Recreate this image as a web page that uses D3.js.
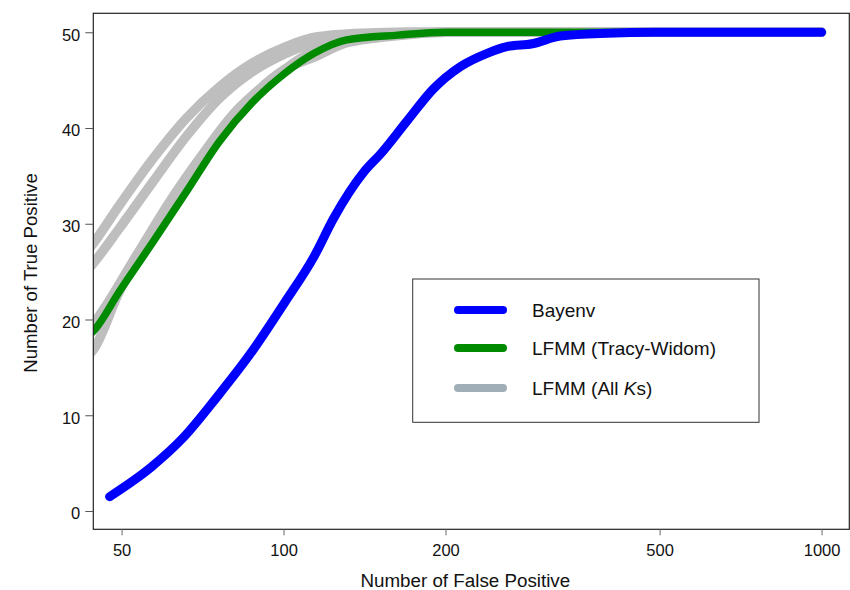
<!DOCTYPE html>
<html>
<head>
<meta charset="utf-8">
<script src="https://cdn.jsdelivr.net/npm/d3@7"></script>
<style>
  html, body { margin: 0; padding: 0; background: #fff; }
  svg { display: block; font-family: "Liberation Sans", Arial, Helvetica, sans-serif; }
</style>
</head>
<body>
<svg id="chart" width="850" height="590"></svg>
<script>
// ---- data ----
const xTicks = [50, 100, 200, 500, 1000];
const yTicks = [0, 10, 20, 30, 40, 50];

const bayenv = [
  [47.5, 1.5], [56.8, 4.6], [65.2, 7.7], [75.2, 11.9], [86.7, 16.4], [100.3, 21.7],
  [114, 26.6], [124, 30.6], [141, 35.4], [151.5, 37.3], [170, 40.8], [190, 44.1],
  [213, 46.4], [239, 47.8], [260, 48.5], [290, 48.8], [327, 49.6], [400, 49.9],
  [490, 50], [1000, 50]
];

const lfmmTW = [
  [43, 18.1], [44.5, 18.9], [49.5, 22.9], [57.2, 28.1], [65.9, 33.3], [76, 38.6],
  [87.6, 42.7], [100, 45.6], [114, 47.8], [131, 49.2], [163, 49.7], [200, 50], [1000, 50]
];

const lfmmK1 = [
  [43, 27.0], [44.5, 28.1], [49.5, 31.9], [57.2, 36.8], [65.9, 41.0], [76, 44.3],
  [87.6, 46.8], [101, 48.5], [115, 49.5], [140, 49.9], [170, 50], [1000, 50]
];
const lfmmK2 = [
  [43, 25.0], [44.5, 26.0], [49.5, 29.5], [57.2, 34.4], [65.9, 39.1], [76, 43.1],
  [87.6, 45.9], [101, 47.8], [115, 49.0], [135, 49.7], [170, 50], [1000, 50]
];
const lfmmK3 = [
  [43, 18.7], [44.5, 19.7], [53.3, 26.7], [61.4, 32.3], [70.6, 37.2], [81.4, 41.7],
  [93.9, 44.8], [110, 47.6], [130, 49.2], [160, 49.8], [200, 50], [1000, 50]
];
const lfmmK4 = [
  [43, 16.0], [44.5, 17.0], [49.5, 22.9], [57.2, 29.1], [65.9, 34.4], [76, 39.6],
  [87.6, 43.4], [101, 46.2], [114, 47.4], [131, 48.9], [160, 49.6], [200, 50], [1000, 50]
];
const grayLines = [lfmmK1, lfmmK2, lfmmK3, lfmmK4];

const legendItems = [
  { label: "Bayenv", color: "#0000FF" },
  { label: "LFMM (Tracy-Widom)", color: "#008A00" },
  { label: "LFMM (All Ks)", color: "#A0AFB7" }
];

// ---- layout ----
const svg = d3.select("#chart");
const L = 93.3, R = 849.3, T = 13.3, B = 529.3;

const x = d3.scaleLog().domain([44.3, 1126]).range([L, R]);
const y = d3.scaleLinear().domain([-1.91, 51.98]).range([B, T]);

svg.append("defs").append("clipPath").attr("id", "clip")
  .append("rect").attr("x", L).attr("y", T).attr("width", R - L).attr("height", B - T);

const line = d3.line()
  .x(d => x(d[0])).y(d => y(d[1]))
  .curve(d3.curveMonotoneX);

const plot = svg.append("g").attr("clip-path", "url(#clip)");

plot.selectAll("path.gray").data(grayLines).enter().append("path")
  .attr("class", "gray")
  .attr("d", line)
  .attr("fill", "none").attr("stroke", "#BEBEBE")
  .attr("stroke-width", 9.5).attr("stroke-linecap", "round").attr("stroke-linejoin", "round");

plot.append("path").datum(lfmmTW).attr("d", line)
  .attr("fill", "none").attr("stroke", "#008A00")
  .attr("stroke-width", 7.5).attr("stroke-linecap", "round").attr("stroke-linejoin", "round");

plot.append("path").datum(bayenv).attr("d", line)
  .attr("fill", "none").attr("stroke", "#0000FF")
  .attr("stroke-width", 9).attr("stroke-linecap", "round").attr("stroke-linejoin", "round");

// frame
svg.append("rect").attr("x", L).attr("y", T).attr("width", R - L).attr("height", B - T)
  .attr("fill", "none").attr("stroke", "#222").attr("stroke-width", 1.2);

// y axis
const yAxis = d3.axisLeft(y).tickValues(yTicks).tickSize(8).tickPadding(5).tickFormat(d3.format("d"));
const gy = svg.append("g").attr("transform", `translate(${L},0)`).call(yAxis);
gy.select(".domain").remove();
gy.selectAll(".tick line").attr("stroke", "#555");
gy.selectAll(".tick text").attr("font-size", 16.5).attr("fill", "#111")
  .attr("font-family", "'Liberation Sans', Arial, sans-serif").attr("dy", "0.48em");

// x axis
const xAxis = d3.axisBottom(x).tickValues(xTicks).tickSize(6).tickPadding(9).tickFormat(d3.format("d"));
const gx = svg.append("g").attr("transform", `translate(0,${B})`).call(xAxis);
gx.select(".domain").remove();
gx.selectAll(".tick line").attr("stroke", "#666");
gx.selectAll(".tick text").attr("font-size", 16.5).attr("fill", "#111")
  .attr("font-family", "'Liberation Sans', Arial, sans-serif");

// axis titles
svg.append("text").attr("x", (L + R) / 2 - 6).attr("y", 587)
  .attr("text-anchor", "middle").attr("font-size", 18.8).attr("fill", "#111")
  .text("Number of False Positive");
svg.append("text").attr("transform", "translate(37,273) rotate(-90)")
  .attr("text-anchor", "middle").attr("font-size", 18.6).attr("fill", "#111")
  .text("Number of True Positive");

// legend
const lg = svg.append("g");
lg.append("rect").attr("x", 412.7).attr("y", 279).attr("width", 346.3).attr("height", 143.3)
  .attr("fill", "#fff").attr("stroke", "#333").attr("stroke-width", 1);
const legY = [310, 348, 388];
legendItems.forEach((it, i) => {
  lg.append("line").attr("x1", 458).attr("x2", 503).attr("y1", legY[i]).attr("y2", legY[i])
    .attr("stroke", it.color).attr("stroke-width", 8).attr("stroke-linecap", "round");
  const t = lg.append("text").attr("x", 532).attr("y", legY[i] + 7)
    .attr("font-size", 19).attr("fill", "#111");
  if (it.label === "LFMM (All Ks)") {
    t.append("tspan").text("LFMM (All ");
    t.append("tspan").attr("font-style", "italic").text("K");
    t.append("tspan").text("s)");
  } else {
    t.text(it.label);
  }
});
</script>
</body>
</html>
